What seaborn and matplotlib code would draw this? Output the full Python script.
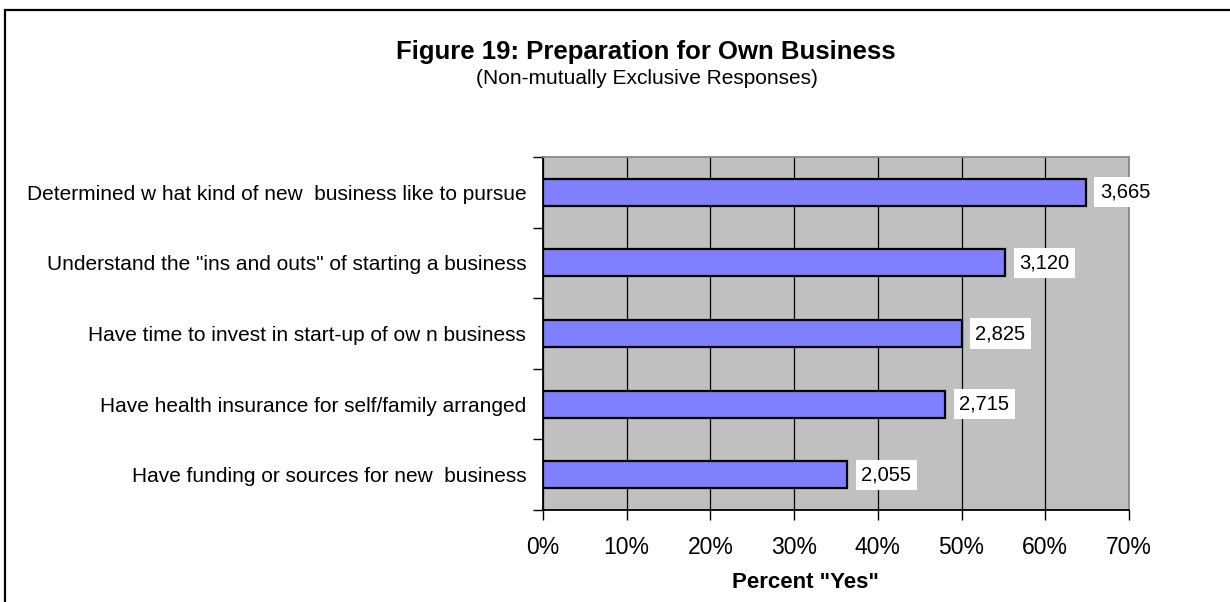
import matplotlib
matplotlib.use("Agg")
import matplotlib.pyplot as plt
from matplotlib.patches import Rectangle
from matplotlib.ticker import FuncFormatter, MultipleLocator
import seaborn as sns

# Survey items (top to bottom) and the number of "yes" answers for each
categories = [
    "Determined w hat kind of new  business like to pursue",
    "Understand the \"ins and outs\" of starting a business",
    "Have time to invest in start-up of ow n business",
    "Have health insurance for self/family arranged",
    "Have funding or sources for new  business",
]
yes_counts = [3665, 3120, 2825, 2715, 2055]
respondents = 5650  # base for the percentages
percent_yes = [100.0 * c / respondents for c in yes_counts]
count_labels = [f"{c:,}" for c in yes_counts]

title = "Figure 19: Preparation for Own Business"
subtitle = "(Non-mutually Exclusive Responses)"
x_label = 'Percent "Yes"'

sns.set_style("white")
plt.rcParams["font.family"] = ["Liberation Sans", "DejaVu Sans"]

W, H = 1230, 602
fig = plt.figure(figsize=(W / 100, H / 100), dpi=100)
fig.patch.set_facecolor("white")

ax = fig.add_axes([543 / W, 1 - 510 / H, 586 / W, 353 / H])
sns.barplot(x=percent_yes, y=categories, orient="h", color="#8080FF",
            saturation=1, edgecolor="black", linewidth=1.6, width=0.38, ax=ax)

ax.set_facecolor("#C0C0C0")
ax.set_axisbelow(True)
ax.set_xlim(0, 70)
ax.set_ylim(len(categories) - 0.5, -0.5)
ax.xaxis.set_major_locator(MultipleLocator(10))
ax.xaxis.set_major_formatter(FuncFormatter(lambda v, _: f"{v:.0f}%"))
ax.grid(axis="x", color="black", linewidth=0.9)
ax.grid(axis="y", visible=False)

# category separators as outward ticks on the value axis
ax.set_yticks([i - 0.5 for i in range(len(categories) + 1)], minor=True)
ax.tick_params(axis="y", which="minor", left=True, length=7, width=1, color="black")
ax.tick_params(axis="y", which="major", left=False, length=0, pad=12,
               labelsize=15, labelcolor="black")
ax.tick_params(axis="x", which="major", bottom=True, length=7, width=1,
               color="black", pad=12, labelsize=16.5, labelcolor="black")

ax.set_ylabel("")
ax.set_xlabel(x_label, fontsize=16, fontweight="bold", color="black")
ax.xaxis.set_label_coords((805 - 543) / 586, (510 - 583) / 353)
ax.xaxis.label.set_va("center")

for side in ("left", "bottom"):
    ax.spines[side].set_color("black")
    ax.spines[side].set_linewidth(1.3)
for side in ("top", "right"):
    ax.spines[side].set_color("#8a8a8a")
    ax.spines[side].set_linewidth(1.3)

ax.bar_label(ax.containers[0], labels=count_labels, padding=10, fontsize=14.5,
             color="black",
             bbox=dict(facecolor="white", edgecolor="none", pad=4))

fig.text(646 / W, 1 - 52 / H, title, ha="center", va="center",
         fontsize=18.5, fontweight="bold", color="black")
fig.text(647 / W, 1 - 79 / H, subtitle, ha="center", va="center",
         fontsize=15, color="black")

# chart-area frame (left and top edges inside the canvas)
fig.patches.append(Rectangle((5 / W, -1), 2, 2 - 9.5 / H, transform=fig.transFigure,
                             fill=False, edgecolor="black", linewidth=1.6))

fig.savefig("out.png", dpi=100)
